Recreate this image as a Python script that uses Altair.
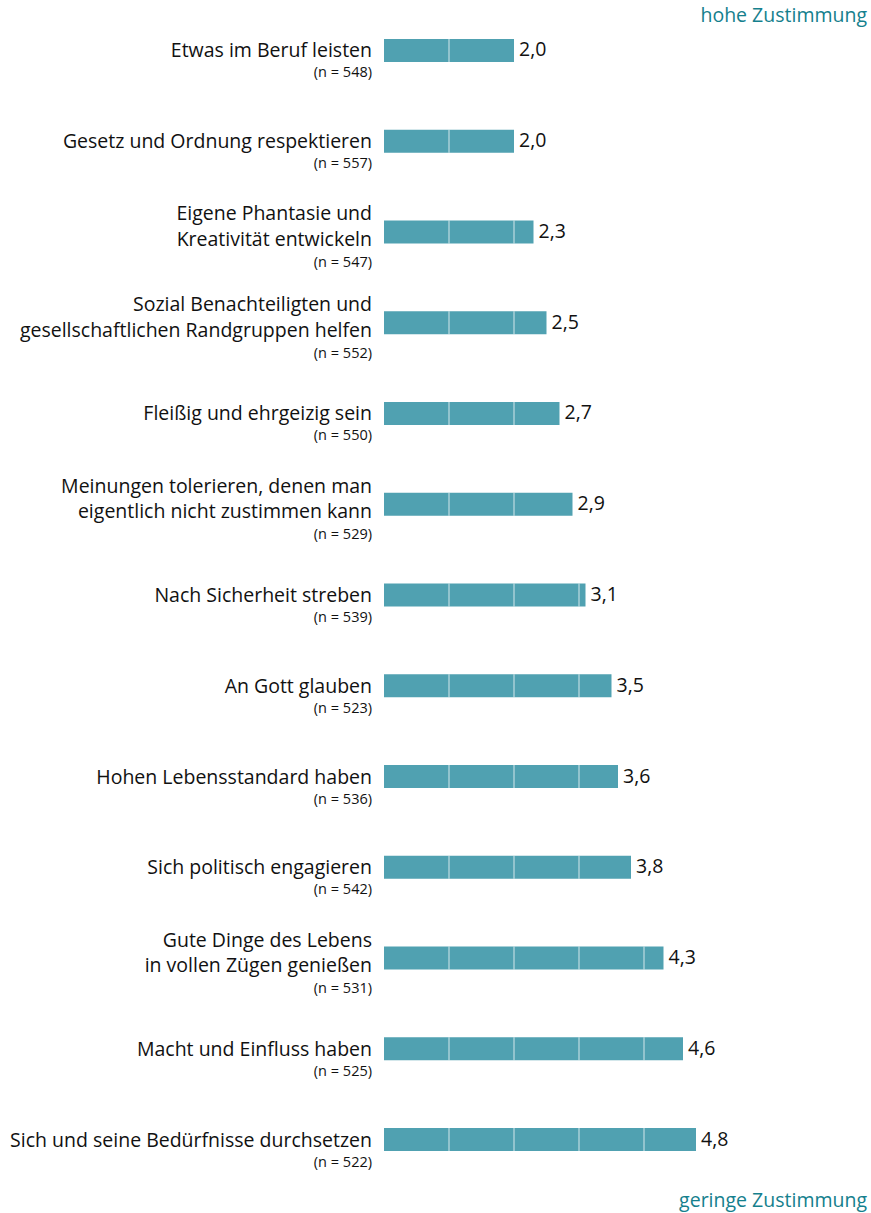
import altair as alt
import pandas as pd

# ---- data ----
line1 = [
    "Etwas im Beruf leisten",
    "Gesetz und Ordnung respektieren",
    "Eigene Phantasie und",
    "Sozial Benachteiligten und",
    "Fleißig und ehrgeizig sein",
    "Meinungen tolerieren, denen man",
    "Nach Sicherheit streben",
    "An Gott glauben",
    "Hohen Lebensstandard haben",
    "Sich politisch engagieren",
    "Gute Dinge des Lebens",
    "Macht und Einfluss haben",
    "Sich und seine Bedürfnisse durchsetzen",
]
line2 = [
    "",
    "",
    "Kreativität entwickeln",
    "gesellschaftlichen Randgruppen helfen",
    "",
    "eigentlich nicht zustimmen kann",
    "",
    "",
    "",
    "",
    "in vollen Zügen genießen",
    "",
    "",
]
n_values = [548, 557, 547, 552, 550, 529, 539, 523, 536, 542, 531, 525, 522]
means = [2.0, 2.0, 2.3, 2.5, 2.7, 2.9, 3.1, 3.5, 3.6, 3.8, 4.3, 4.6, 4.8]
grid_values = [1, 2, 3, 4]
annotations = ["hohe Zustimmung", "geringe Zustimmung"]

# ---- tables ----
items = [a + (" " + b if b else "") for a, b in zip(line1, line2)]
df = pd.DataFrame({
    "item": items,
    "line1": line1,
    "line2": line2,
    "nlines": [2 if b else 1 for b in line2],
    "ntext": [f"(n = {n})" for n in n_values],
    "value": means,
})
grid_rows = [
    {"item": it, "g": g}
    for it, v in zip(items, means)
    for g in grid_values
    if g < v - 0.01
]
gdf = pd.DataFrame(grid_rows)

W, H = 487, 1180
BAR = "#50a1b1"
TEAL = "#15808d"
FONT = "Open Sans"
FS = 19.5

y_enc = alt.Y("item:N", sort=items, axis=None,
              scale=alt.Scale(paddingInner=0, paddingOuter=0))
x_scale = alt.Scale(domain=[0, W / 65.0], nice=False, zero=True)

base = alt.Chart(df)

bars = base.mark_bar(size=23, color=BAR).encode(
    x=alt.X("value:Q", scale=x_scale, axis=None),
    y=y_enc,
)

grid = alt.Chart(gdf).mark_tick(color="white", thickness=1, size=23, opacity=0.75).encode(
    x=alt.X("g:Q", scale=x_scale, axis=None),
    y=y_enc,
)

values = base.transform_calculate(
    lab="replace(format(datum.value, '.1f'), '.', ',')"
).mark_text(align="left", baseline="middle", dx=5, fontSize=FS, font=FONT, color="#111111").encode(
    x=alt.X("value:Q", scale=x_scale, axis=None),
    y=y_enc,
    text="lab:N",
)

def lbl(filt, field, dy, size, color="#111111"):
    return base.transform_filter(filt).mark_text(
        align="right", baseline="middle", dy=dy, fontSize=size, font=FONT, color=color
    ).encode(
        x=alt.value(-12),
        y=y_enc,
        text=f"{field}:N",
    )

single = lbl("datum.nlines == 1", "line1", 1, FS)
first = lbl("datum.nlines == 2", "line1", -17.5, FS)
second = lbl("datum.nlines == 2", "line2", 8, FS)
n_single = lbl("datum.nlines == 1", "ntext", 23, 14.5)
n_double = lbl("datum.nlines == 2", "ntext", 31, 14.5)

ann_df = pd.DataFrame({"t": annotations, "pos": ["top", "bottom"]})
top_ann = alt.Chart(ann_df).transform_filter("datum.pos == 'top'").mark_text(
    align="right", baseline="middle", fontSize=FS, font=FONT, color=TEAL
).encode(x=alt.value(W - 4), y=alt.value(11), text="t:N")
bot_ann = alt.Chart(ann_df).transform_filter("datum.pos == 'bottom'").mark_text(
    align="right", baseline="middle", fontSize=FS, font=FONT, color=TEAL
).encode(x=alt.value(W - 4), y=alt.value(H + 16), text="t:N")

chart = alt.layer(
    bars, grid, values, single, first, second, n_single, n_double, top_ann, bot_ann
).properties(
    width=W,
    height=H,
    padding={"left": 384, "top": 5, "right": 0, "bottom": 28},
    autosize="none",
).configure_view(stroke=None)

chart.save("out.html", embed_options={"renderer": "svg", "actions": False})
